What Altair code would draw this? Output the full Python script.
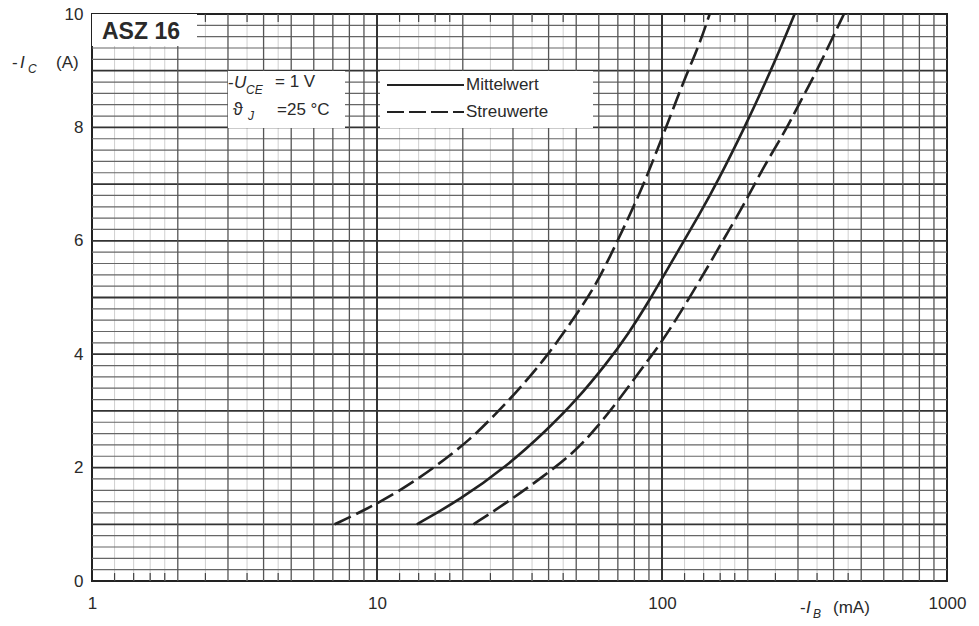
import altair as alt
import pandas as pd

# ---------------- data ----------------
# Mittelwert (solid)
mittel_ib = [13.8, 19.5, 28.5, 39.4, 50.1, 64.0, 76.0, 90.7, 112.6, 135.9, 157.6, 192.8, 239.0, 292.0]
mittel_ic = [1.0, 1.43, 2.02, 2.66, 3.19, 3.84, 4.35, 4.96, 5.78, 6.48, 7.07, 7.95, 8.95, 10.0]
# Streuwerte, upper bound (left dashed)
streu_a_ib = [7.1, 8.8, 11.7, 15.8, 21.2, 25.9, 31.8, 39.4, 47.5, 57.4, 65.7, 75.2, 86.0, 97.0, 108.0, 121.0, 135.0, 147.0]
streu_a_ic = [1.0, 1.22, 1.55, 1.99, 2.49, 2.93, 3.40, 3.96, 4.53, 5.14, 5.72, 6.34, 6.98, 7.65, 8.25, 8.90, 9.45, 10.0]
# Streuwerte, lower bound (right dashed)
streu_b_ib = [21.8, 28.5, 37.3, 48.8, 59.0, 72.0, 87.0, 100.0, 120.0, 148.0, 170.0, 197.0, 228.0, 272.0, 305.0, 340.0, 388.0, 435.0]
streu_b_ic = [1.0, 1.38, 1.80, 2.25, 2.70, 3.25, 3.82, 4.22, 4.85, 5.62, 6.15, 6.70, 7.32, 7.95, 8.45, 8.88, 9.48, 10.0]

x_labels = [1, 10, 100, 1000]
y_labels = [0, 2, 4, 6, 8, 10]
decades = [1, 10, 100]
major_mult = [2, 3, 4, 5, 6, 7, 8, 9]
minor_mult = [1.2, 1.4, 1.6, 1.8, 2.5, 3.5, 4.5]
decade_lines = [10, 100]
y_major = [1, 2, 3, 4, 5, 6, 7, 8, 9]
y_step = 0.2

# ---------------- derived tables ----------------
v_major = [d * m for d in decades for m in major_mult]
v_minor = [d * m for d in decades for m in minor_mult]
h_minor = [round(i * y_step, 1) for i in range(1, 50) if i % 5 != 0]

FONT = "Liberation Sans"
INK = "#2a2a2a"
W, H = 855, 567

xscale = alt.Scale(type="log", domain=[1, 1000])
yscale = alt.Scale(domain=[0, 10], nice=False, zero=False)
xaxis = alt.Axis(values=x_labels, format="d", title=None, ticks=False, domain=False,
                 grid=False, labelFontSize=17, labelPadding=14, labelFont=FONT,
                 labelColor=INK, labelFlush=False)
yaxis = alt.Axis(values=y_labels, format="d", title=None, ticks=False, domain=False, grid=False,
                 labelFontSize=17, labelPadding=9, labelFont=FONT, labelColor=INK,
                 labelFlush=False, labelBaseline="middle")


def X(field):
    return alt.X(field, type="quantitative", scale=xscale, axis=xaxis, title=None)


def Y(field):
    return alt.Y(field, type="quantitative", scale=yscale, axis=yaxis, title=None)


def vrules(vals, color, width):
    return alt.Chart(pd.DataFrame({"v": vals})).mark_rule(color=color, strokeWidth=width).encode(x=X("v"))


def hrules(vals, color, width):
    return alt.Chart(pd.DataFrame({"v": vals})).mark_rule(color=color, strokeWidth=width).encode(y=Y("v"))


grid_vminor = vrules(v_minor, "#cfcfcf", 1)
grid_hminor = hrules(h_minor, "#666666", 1.2)
grid_hmajor = hrules(y_major, "#333333", 1.8)
grid_vmajor = vrules(v_major, "#555555", 1.3)
grid_vdec = vrules(decade_lines, "#333333", 2)

tick_df = pd.DataFrame({"v": v_minor})
ticks_bottom = alt.Chart(tick_df).mark_rule(color="#444", strokeWidth=1.2).encode(
    x=X("v"), y=alt.datum(0), y2=alt.datum(0.14))
ticks_top = alt.Chart(tick_df).mark_rule(color="#444", strokeWidth=1.2).encode(
    x=X("v"), y=alt.datum(10), y2=alt.datum(9.86))

one = pd.DataFrame({"k": [0]})


def box(x1, x2, y1, y2):
    return alt.Chart(one).mark_rect(color="white").encode(
        x=alt.value(x1), x2=alt.value(x2), y=alt.value(y1), y2=alt.value(y2))


def txt(s, x, y, size=17, style="normal", weight="normal", align="left"):
    return alt.Chart(one).mark_text(text=s, font=FONT, fontSize=size, fontStyle=style,
                                    fontWeight=weight, color=INK, align=align,
                                    baseline="middle").encode(x=alt.value(x), y=alt.value(y))


boxes = [box(0, 105, 0, 32), box(136, 253, 57, 114), box(288, 501, 57, 114)]


def curve(ib, ic, dash=None):
    df = pd.DataFrame({"ib": ib, "ic": ic})
    kw = dict(color="#222222", strokeWidth=2.6, interpolate="basis")
    if dash:
        kw["strokeDash"] = dash
    return alt.Chart(df).mark_line(**kw).encode(x=X("ib"), y=Y("ic"), order="ib:Q")


DASH = [18, 6]
curves = [
    curve(streu_a_ib, streu_a_ic, DASH),
    curve(mittel_ib, mittel_ic),
    curve(streu_b_ib, streu_b_ic, DASH),
]

legend_lines = [
    alt.Chart(one).mark_rule(color="#222", strokeWidth=2).encode(
        x=alt.value(295), x2=alt.value(372), y=alt.value(71)),
    alt.Chart(one).mark_rule(color="#222", strokeWidth=2, strokeDash=[17, 5]).encode(
        x=alt.value(295), x2=alt.value(372), y=alt.value(98)),
]

texts = [
    txt("ASZ 16", 10, 18, size=23, weight="bold"),
    # conditions
    txt("-", 136, 69),
    txt("U", 142, 69, style="italic"),
    txt("CE", 154, 76, size=12, style="italic"),
    txt("=  1 V", 183, 68),
    txt("ϑ", 141, 96, size=18),
    txt("J", 156, 102, size=12, style="italic"),
    txt("=25 °C", 185, 96),
    # legend
    txt("Mittelwert", 374, 71),
    txt("Streuwerte", 374, 98),
    # y axis title
    txt("-", -80, 49),
    txt("I", -72, 49, style="italic"),
    txt("C", -64, 55, size=12, style="italic"),
    txt("(A)", -36, 49),
    # x axis title
    txt("-", 708, 594),
    txt("I", 714, 594, style="italic"),
    txt("B", 721, 600, size=12, style="italic"),
    txt("(mA)", 741, 594),
]

chart = alt.layer(
    grid_vminor, grid_hminor, grid_hmajor, grid_vmajor, grid_vdec,
    ticks_bottom, ticks_top,
    *boxes, *curves, *legend_lines, *texts
).properties(
    width=W, height=H,
    autosize=alt.AutoSizeParams(type="none"),
    padding={"left": 92, "top": 14, "right": 32, "bottom": 45},
    background="white",
).configure_view(stroke="#222222", strokeWidth=2)

chart.save("out.html", embed_options={"renderer": "svg", "actions": False})
